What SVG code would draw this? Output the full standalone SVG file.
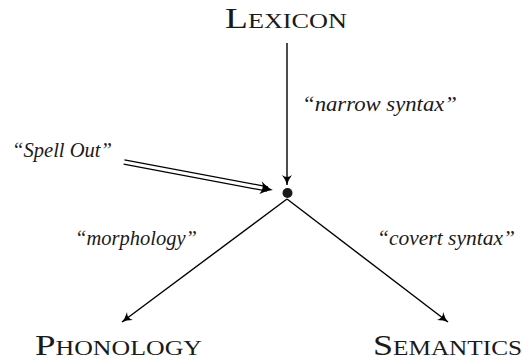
<svg xmlns="http://www.w3.org/2000/svg" width="530" height="362" viewBox="0 0 530 362">
  <defs>
    <style>
      .caps { font-family: "Liberation Serif", "Times New Roman", serif; font-size: 30px; font-variant: small-caps; fill: #1a1a1a; }
      .lbl { font-family: "Liberation Serif", "Times New Roman", serif; font-size: 22px; font-style: italic; fill: #1a1a1a; }
      .edge { stroke: #000; stroke-width: 1.4; fill: none; }
    </style>
    <!-- concave arrowhead, tip at the path end -->
    <marker id="tip" viewBox="-11 -6 12 12" refX="0" refY="0" markerWidth="12" markerHeight="12" markerUnits="userSpaceOnUse" orient="auto">
      <path d="M0,0 Q-5,-1.2 -10,-5 Q-6,0 -10,5 Q-5,1.2 0,0 Z" fill="#000"/>
    </marker>
  </defs>

  <rect width="530" height="362" fill="#fff"/>

  <g id="connectors">
    <!-- lexicon down to the spell-out point -->
    <line class="edge" x1="287" y1="43" x2="287" y2="185" marker-end="url(#tip)"/>
    <!-- branches to the interfaces -->
    <line class="edge" x1="287" y1="199" x2="122" y2="322" marker-end="url(#tip)"/>
    <line class="edge" x1="287" y1="199" x2="448" y2="322" marker-end="url(#tip)"/>
    <!-- double-shafted spell-out arrow -->
    <g transform="translate(124,162) rotate(10.64)">
      <line x1="0" y1="-2.2" x2="146" y2="-2.2" stroke="#000" stroke-width="1.2"/>
      <line x1="0" y1="2.2" x2="146" y2="2.2" stroke="#000" stroke-width="1.2"/>
      <path d="M151.5,0 Q145,-1.5 139,-6.5 Q143,0 139,6.5 Q145,1.5 151.5,0 Z" fill="#000"/>
    </g>
  </g>

  <g id="spellout-point">
    <circle cx="287.5" cy="193" r="5" fill="#1a1a1a"/>
  </g>

  <g id="lexicon">
    <text class="caps" x="225" y="28" textLength="122" lengthAdjust="spacingAndGlyphs">Lexicon</text>
  </g>
  <g id="phonology">
    <text class="caps" x="35" y="355" textLength="167" lengthAdjust="spacingAndGlyphs">Phonology</text>
  </g>
  <g id="semantics">
    <text class="caps" x="373" y="355" textLength="149" lengthAdjust="spacingAndGlyphs">Semantics</text>
  </g>

  <g id="labels">
    <text class="lbl" x="302" y="111" textLength="155" lengthAdjust="spacingAndGlyphs">“narrow syntax”</text>
    <text class="lbl" x="12" y="157" textLength="100" lengthAdjust="spacingAndGlyphs">“Spell Out”</text>
    <text class="lbl" x="75" y="245" textLength="122" lengthAdjust="spacingAndGlyphs">“morphology”</text>
    <text class="lbl" x="377" y="245" textLength="138" lengthAdjust="spacingAndGlyphs">“covert syntax”</text>
  </g>
</svg>
